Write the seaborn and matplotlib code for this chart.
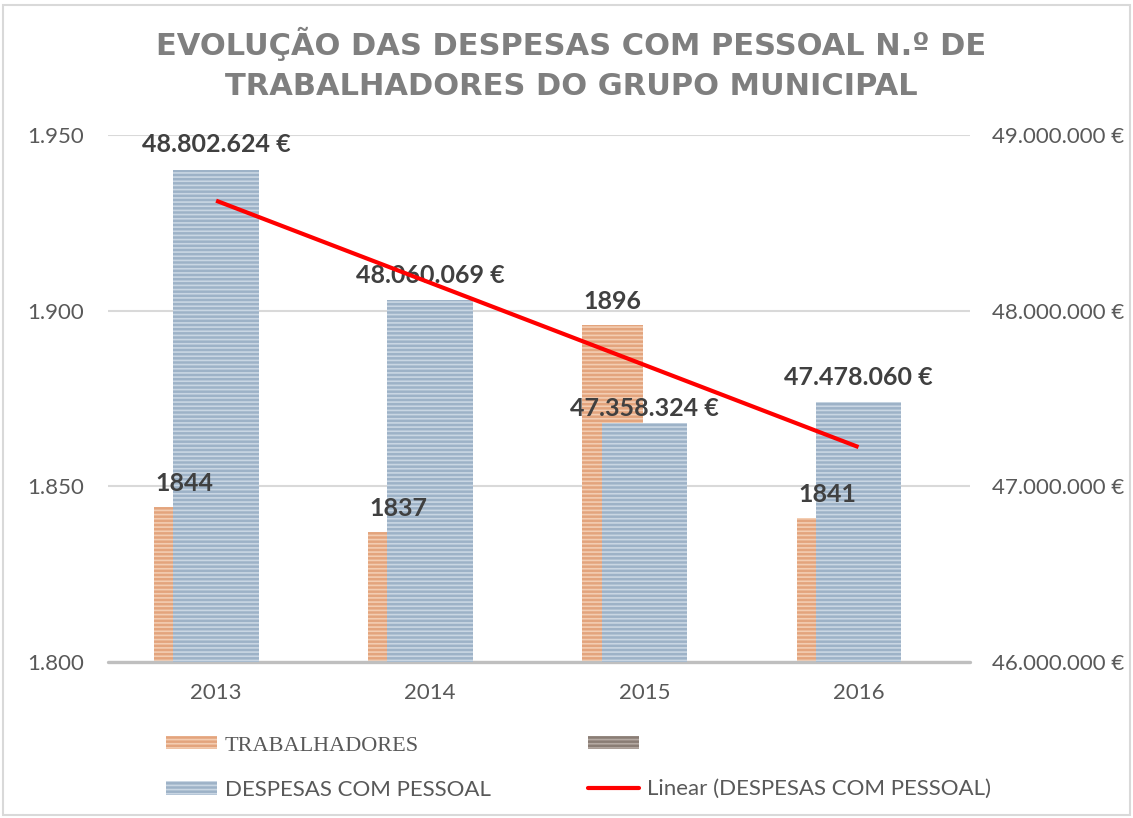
import matplotlib
matplotlib.use("Agg")
import matplotlib.pyplot as plt
import numpy as np
import pandas as pd
import seaborn as sns
from matplotlib.lines import Line2D
from matplotlib.patches import Patch, Rectangle
from matplotlib.ticker import FuncFormatter

years = ["2013", "2014", "2015", "2016"]
trabalhadores = [1844, 1837, 1896, 1841]
despesas = [48802624, 48060069, 47358324, 47478060]

title = "EVOLUÇÃO DAS DESPESAS COM PESSOAL N.º DE\nTRABALHADORES DO GRUPO MUNICIPAL"
left_ticks = [1800, 1850, 1900, 1950]
right_ticks = [46000000, 47000000, 48000000, 49000000]

ORANGE, ORANGE_H = "#e3a47d", "#f3cdb2"
BLUE, BLUE_H = "#9db2c7", "#c9d6e3"
BROWN, BROWN_H = "#8a7d75", "#b5aaa3"
TXT = "#595959"


def dots(v):
    return f"{int(round(v)):,}".replace(",", ".")


def main() -> None:
    sns.set_theme(style="white")
    plt.rcParams["font.family"] = ["Lato", "DejaVu Sans"]
    plt.rcParams["hatch.linewidth"] = 1.2

    df = pd.DataFrame({"ano": years, "trab": trabalhadores, "desp": despesas})

    fig = plt.figure(figsize=(11.33, 8.18), dpi=100)
    ax = fig.add_axes([0.0953, 0.1907, 0.7607, 0.6443])
    ax2 = ax.twinx()

    sns.barplot(data=df, x="ano", y="trab", ax=ax, color=ORANGE, width=0.285,
                edgecolor=ORANGE_H, linewidth=0, hatch="----", saturation=1)
    for p in ax.patches:
        p.set_x(p.get_x() - 0.147)

    sns.barplot(data=df, x="ano", y="desp", ax=ax2, color=BLUE, width=0.4,
                edgecolor=BLUE_H, linewidth=0, hatch="----", saturation=1)

    # linear trend of the expenses
    xs = np.arange(len(years))
    k, b = np.polyfit(xs, despesas, 1)
    ax2.plot(xs, k * xs + b, color="#ff0000", lw=3, zorder=10, solid_capstyle="butt")

    ax.set_xlim(-0.505, 3.52)
    ax.set_ylim(1800, 1950)
    ax2.set_ylim(46000000, 49000000)
    ax.set_yticks(left_ticks)
    ax2.set_yticks(right_ticks)
    ax.yaxis.set_major_formatter(FuncFormatter(lambda v, _: dots(v)))
    ax2.yaxis.set_major_formatter(FuncFormatter(lambda v, _: dots(v) + " €"))

    ax.grid(axis="y", color="#d9d9d9", lw=1.5)
    ax.set_axisbelow(True)
    for a in (ax, ax2):
        for s in a.spines.values():
            s.set_visible(False)
        a.set_xlabel("")
        a.set_ylabel("")
    ax.axhline(1800, color="#bfbfbf", lw=2.4, zorder=5, clip_on=False)

    ax.tick_params(axis="y", length=0, pad=17, labelsize=16, labelcolor=TXT)
    ax2.tick_params(axis="y", length=0, pad=16, labelsize=16, labelcolor=TXT)
    ax.tick_params(axis="x", length=0, pad=15, labelsize=16, labelcolor=TXT)

    # data labels
    for i, v in enumerate(trabalhadores):
        ax2.annotate(str(v), (i - 0.147, v), xycoords=ax.transData,
                     xytext=(0, 17), textcoords="offset points", ha="center", va="center",
                     fontsize=18, fontweight="bold", color="#404040", zorder=6)
    for i, v in enumerate(despesas):
        off = 11 if i == 2 else 18
        ax2.annotate(dots(v) + " €", (i, v), xytext=(0, off), textcoords="offset points",
                     ha="center", va="center", fontsize=18, fontweight="bold",
                     color="#404040", zorder=6)

    fig.text(0.504, 0.922, title, ha="center", va="center", fontsize=22,
             fontweight="bold", color="#7f7f7f", family="DejaVu Sans", linespacing=1.45)

    handles = [
        Patch(facecolor=ORANGE, edgecolor=ORANGE_H, hatch="----", lw=0),
        Patch(facecolor=BLUE, edgecolor=BLUE_H, hatch="----", lw=0),
        Patch(facecolor=BROWN, edgecolor=BROWN_H, hatch="----", lw=0),
        Line2D([], [], color="#ff0000", lw=3),
    ]
    labels = ["TRABALHADORES", "DESPESAS COM PESSOAL", " ", "Linear (DESPESAS COM PESSOAL)"]
    leg = fig.legend(handles, labels, ncol=2, loc="center left", bbox_to_anchor=(0.1285, 0.062),
                     frameon=False, fontsize=16, labelcolor=TXT, handlelength=2.3,
                     handleheight=0.55, handletextpad=0.36, columnspacing=4.4, labelspacing=1.1)
    leg.get_texts()[0].set_family(["Liberation Serif"])

    fig.patches.append(Rectangle((0.003, 0.004), 0.994, 0.99, transform=fig.transFigure,
                                 fill=False, edgecolor="#d9d9d9", lw=1.5))

    fig.savefig("out.png", dpi=100)


if __name__ == "__main__":
    main()
